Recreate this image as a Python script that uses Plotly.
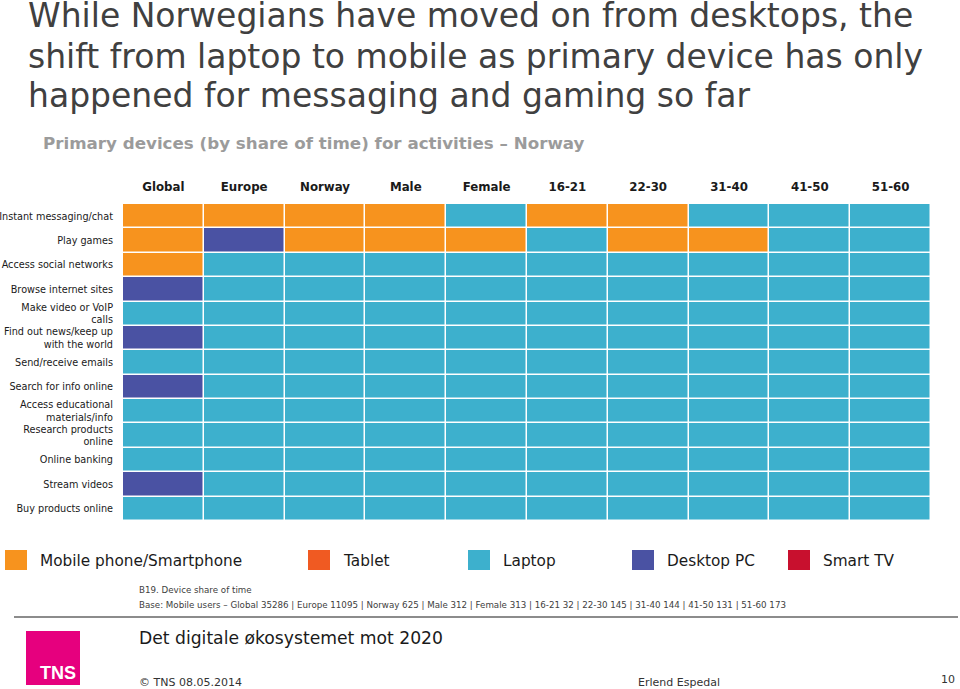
import plotly.graph_objects as go

# ---- data ----
devices = ["Mobile phone/Smartphone", "Tablet", "Laptop", "Desktop PC", "Smart TV"]
device_codes = ["M", "T", "L", "D", "S"]
device_colors = ["#F7931E", "#F05A22", "#3DB0CD", "#4A52A3", "#C8102E"]

segments = ["Global", "Europe", "Norway", "Male", "Female", "16-21", "22-30", "31-40", "41-50", "51-60"]

activities = [
    "Instant messaging/chat",
    "Play games",
    "Access social networks",
    "Browse internet sites",
    "Make video or VoIP<br>calls",
    "Find out news/keep up<br>with the world",
    "Send/receive emails",
    "Search for info online",
    "Access educational<br>materials/info",
    "Research products<br>online",
    "Online banking",
    "Stream videos",
    "Buy products online",
]

# primary device per activity (row) and segment (column)
primary_device = [
    ["M", "M", "M", "M", "L", "M", "M", "L", "L", "L"],
    ["M", "D", "M", "M", "M", "L", "M", "M", "L", "L"],
    ["M", "L", "L", "L", "L", "L", "L", "L", "L", "L"],
    ["D", "L", "L", "L", "L", "L", "L", "L", "L", "L"],
    ["L", "L", "L", "L", "L", "L", "L", "L", "L", "L"],
    ["D", "L", "L", "L", "L", "L", "L", "L", "L", "L"],
    ["L", "L", "L", "L", "L", "L", "L", "L", "L", "L"],
    ["D", "L", "L", "L", "L", "L", "L", "L", "L", "L"],
    ["L", "L", "L", "L", "L", "L", "L", "L", "L", "L"],
    ["L", "L", "L", "L", "L", "L", "L", "L", "L", "L"],
    ["L", "L", "L", "L", "L", "L", "L", "L", "L", "L"],
    ["D", "L", "L", "L", "L", "L", "L", "L", "L", "L"],
    ["L", "L", "L", "L", "L", "L", "L", "L", "L", "L"],
]

title_lines = [
    "While Norwegians have moved on from desktops, the",
    "shift from laptop to mobile as primary device has only",
    "happened for messaging and gaming so far",
]
subtitle = "Primary devices (by share of time) for activities \u2013 Norway"
source_note = "B19. Device share of time"
base_note = ("Base: Mobile users \u2013 Global 35286 | Europe 11095 | Norway 625 | Male 312 | "
             "Female 313 | 16-21 32 | 22-30 145 | 31-40 144 | 41-50 131 | 51-60 173")
footer_title = "Det digitale \u00f8kosystemet mot 2020"
footer_left = "\u00a9 TNS 08.05.2014"
footer_mid = "Erlend Espedal"
page_no = "10"

# ---- layout geometry (pixels) ----
W, H = 960, 689
L, R, T, B = 123, 29, 204, 168
PW, PH = W - L - R, H - T - B


def px(x):
    return (x - L) / PW


def py(y):
    return (T + PH - y) / PH


z = [[device_codes.index(c) for c in row] for row in primary_device]
n = len(devices)
colorscale = []
for i, col in enumerate(device_colors):
    colorscale.append([i / n, col])
    colorscale.append([(i + 1) / n, col])

fig = go.Figure(go.Heatmap(
    z=z, x=segments, y=activities,
    zmin=-0.5, zmax=n - 0.5,
    colorscale=colorscale, showscale=False,
    xgap=1.5, ygap=1.5, hoverinfo="skip",
))

sans = "DejaVu Sans, Verdana, sans-serif"
fig.update_layout(
    width=W, height=H,
    margin=dict(l=L, r=R, t=T, b=B, pad=0, autoexpand=False),
    paper_bgcolor="white", plot_bgcolor="white",
    font=dict(family=sans, color="#000000"),
    xaxis=dict(side="top", showgrid=False, zeroline=False, ticks="", automargin=False,
               tickfont=dict(family="DejaVu Sans", size=11.8, color="#1a1a1a", weight="bold"),
               ticklabelstandoff=10, fixedrange=True),
    yaxis=dict(autorange="reversed", showgrid=False, zeroline=False, ticks="", automargin=False,
               tickfont=dict(family=sans, size=9.7, color="#1a1a1a"),
               ticklabelstandoff=9, fixedrange=True),
)

ann = []
for i, line in enumerate(title_lines):
    ann.append(dict(text=line, x=px(26), y=py(16 + 40 * i), xref="paper", yref="paper",
                    xanchor="left", yanchor="middle", showarrow=False,
                    font=dict(family=sans, size=33, color="#404040")))
ann.append(dict(text="<b>" + subtitle + "</b>", x=px(41), y=py(143), xref="paper", yref="paper",
                xanchor="left", yanchor="middle", showarrow=False,
                font=dict(family=sans, size=16.7, color="#9b9b9b")))

legend_x = [5, 308, 468, 632, 788]
shapes = []
for i, (name, col) in enumerate(zip(devices, device_colors)):
    x0 = legend_x[i]
    shapes.append(dict(type="rect", xref="paper", yref="paper",
                       x0=px(x0), x1=px(x0 + 22), y0=py(570), y1=py(550),
                       fillcolor=col, line=dict(width=0)))
    ann.append(dict(text=name, x=px(x0 + 33), y=py(561), xref="paper", yref="paper",
                    xanchor="left", yanchor="middle", showarrow=False,
                    font=dict(family=sans, size=15.3, color="#1a1a1a")))

ann.append(dict(text=source_note, x=px(137), y=py(590), xref="paper", yref="paper",
                xanchor="left", yanchor="middle", showarrow=False,
                font=dict(family=sans, size=8.7, color="#404040")))
ann.append(dict(text=base_note, x=px(137), y=py(605), xref="paper", yref="paper",
                xanchor="left", yanchor="middle", showarrow=False,
                font=dict(family=sans, size=8.7, color="#404040")))
shapes.append(dict(type="line", xref="paper", yref="paper", x0=px(14), x1=px(958),
                   y0=py(617), y1=py(617), line=dict(color="#8c8c8c", width=2)))

# TNS logo
shapes.append(dict(type="rect", xref="paper", yref="paper", x0=px(26), x1=px(80),
                   y0=py(685), y1=py(631), fillcolor="#E6007E", line=dict(width=0)))
ann.append(dict(text="<b>TNS</b>", x=px(58), y=py(673), xref="paper", yref="paper",
                xanchor="center", yanchor="middle", showarrow=False,
                font=dict(family="Liberation Sans Narrow, Liberation Sans", size=18, color="white")))

ann.append(dict(text=footer_title, x=px(137), y=py(638), xref="paper", yref="paper",
                xanchor="left", yanchor="middle", showarrow=False,
                font=dict(family=sans, size=17.2, color="#1a1a1a")))
ann.append(dict(text=footer_left, x=px(137), y=py(682), xref="paper", yref="paper",
                xanchor="left", yanchor="middle", showarrow=False,
                font=dict(family=sans, size=11, color="#333333")))
ann.append(dict(text=footer_mid, x=px(636), y=py(682), xref="paper", yref="paper",
                xanchor="left", yanchor="middle", showarrow=False,
                font=dict(family=sans, size=11, color="#333333")))
ann.append(dict(text=page_no, x=px(957), y=py(679), xref="paper", yref="paper",
                xanchor="right", yanchor="middle", showarrow=False,
                font=dict(family=sans, size=11, color="#333333")))

fig.update_layout(annotations=ann, shapes=shapes)
fig.write_html("out.html", config={"displayModeBar": False},
               post_script="document.body.style.margin='0';document.body.style.overflow='hidden';")
